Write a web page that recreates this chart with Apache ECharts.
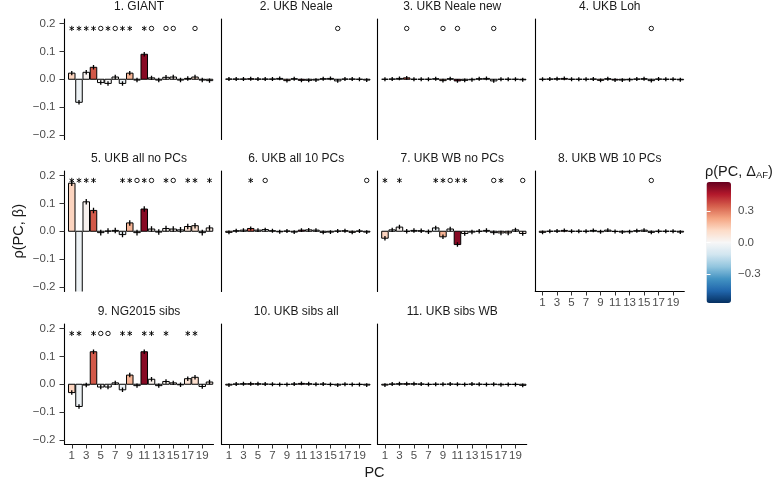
<!DOCTYPE html>
<html><head><meta charset="utf-8">
<script src="https://cdn.jsdelivr.net/npm/echarts@6/dist/echarts.min.js"></script>
<style>html,body{margin:0;padding:0;background:#fff}#c{width:781px;height:484px}</style>
</head><body><div id="c"></div>
<script>
// ---------------- data ----------------
const pcs = [1,2,3,4,5,6,7,8,9,10,11,12,13,14,15,16,17,18,19,20];
const xTickLabels = [1,3,5,7,9,11,13,15,17,19];
const yTickValues = [-0.2,-0.1,0,0.1,0.2];
const legendTicks = [-0.3,0,0.3];
// rho(PC, Delta AF) used for bar fill
const rhoPCdeltaAF = [0.13,-0.03,0.02,0.36,0.0,0.0,0.02,-0.04,0.2,0.0,0.53,0.03,0.0,0.02,0.03,0.0,0.08,0.1,0.0,0.04];
const panelNames = ['1. GIANT','2. UKB Neale','3. UKB Neale new','4. UKB Loh','5. UKB all no PCs','6. UKB all 10 PCs','7. UKB WB no PCs','8. UKB WB 10 PCs','9. NG2015 sibs','10. UKB sibs all','11. UKB sibs WB'];

const giant       = [0.022,-0.083,0.025,0.043,-0.012,-0.015,0.008,-0.015,0.022,-0.003,0.09,0.005,-0.003,0.007,0.008,-0.003,0.003,0.008,-0.003,-0.005];
const ukbNeale    = [0.001,0.001,0.001,0.002,0.001,0.001,0.001,0.003,-0.005,0.002,-0.004,-0.004,-0.003,0.002,0.003,-0.006,0.001,0.001,0.0,-0.003];
const ukbNealeNew = [0.0,0.001,0.003,0.005,0.0,0.0,0.0,0.002,-0.005,0.002,-0.006,-0.004,-0.002,0.002,0.003,-0.006,0.0,0.0,0.0,-0.002];
const ukbLoh      = [0.0,0.001,0.002,0.003,0.0,0.0,0.0,0.001,-0.004,0.002,-0.003,-0.003,-0.002,0.001,0.002,-0.005,0.001,0.0,0.0,-0.002];
const ukbAllNoPCs = [0.173,-0.3,0.106,0.075,-0.005,0.001,0.003,-0.012,0.03,-0.005,0.08,0.008,-0.003,0.01,0.008,0.005,0.017,0.02,-0.005,0.012];
const ukbAll10PCs = [-0.004,0.002,0.004,0.01,0.004,0.006,0.002,-0.002,0.001,-0.003,0.004,0.005,0.004,-0.004,-0.003,0.001,0.002,-0.004,0.001,-0.003];
const ukbWBnoPCs  = [-0.025,0.005,0.015,0.0,0.003,0.002,-0.002,0.012,-0.02,0.008,-0.048,-0.008,-0.003,0.0,0.003,-0.005,-0.006,-0.006,0.005,-0.008];
const ukbWB10PCs  = [-0.004,0.0,0.001,0.003,0.0,0.0,0.0,0.003,-0.002,0.004,-0.001,-0.003,-0.002,0.002,0.004,-0.004,0.0,0.0,0.0,-0.003];
const ng2015Sibs  = [-0.03,-0.08,-0.003,0.117,-0.01,-0.01,0.005,-0.02,0.033,-0.005,0.117,0.018,-0.005,0.01,0.005,-0.002,0.02,0.025,-0.008,0.008];
const ukbSibsAll  = [-0.003,0.001,0.002,0.002,0.002,0.001,0.0,-0.001,-0.001,0.001,0.003,0.002,0.0,0.001,-0.001,-0.003,0.0,-0.001,-0.001,-0.003];
const ukbSibsWB   = [-0.003,0.001,0.002,0.002,0.002,0.001,-0.001,0.0,0.0,0.001,0.0,-0.001,0.001,0.0,-0.001,0.0,-0.002,-0.001,-0.001,-0.004];
const panelValues = [giant,ukbNeale,ukbNealeNew,ukbLoh,ukbAllNoPCs,ukbAll10PCs,ukbWBnoPCs,ukbWB10PCs,ng2015Sibs,ukbSibsAll,ukbSibsWB];
// standard error half-widths per panel
const panelSE = [0.008,0.007,0.007,0.007,0.01,0.007,0.008,0.007,0.008,0.007,0.007];
// significance markers (PC numbers)
const starPCs = [
  [1,2,3,4,6,8,9,11], [], [], [],
  [1,2,3,4,8,9,11,14,17,18,20], [4], [1,3,8,9,11,12,17], [],
  [1,2,4,8,9,11,12,14,17,18], [], []
];
const circlePCs = [
  [5,7,12,14,15,18], [16], [4,9,11,16], [16],
  [10,12,15], [6,20], [10,16,20], [16],
  [5,6], [], []
];

// ---------------- layout / style ----------------
const FONT = 'Liberation Sans, Arial, Helvetica, sans-serif';
const colLeft = [64.5, 221.7, 377.7, 535.3];
const rowTop = [19, 171, 324];
const PW = 149, PH = 120.5;
const YMIN = -0.217, YMAX = 0.217, XMIN = 0, XMAX = 20.55;
const MARK_Y = 0.183;
const rdbu = ['#053061','#2166ac','#4393c3','#92c5de','#d1e5f0','#f7f7f7','#fddbc7','#f4a582','#d6604d','#b2182b','#67001f'];
const bottomPanels = [7,8,9,10];
const fmt = v => (v < 0 ? '\u2212' : '') + Math.abs(v).toFixed(1);

const option = {animation:false, backgroundColor:'#fff', textStyle:{fontFamily:FONT},
  grid:[], xAxis:[], yAxis:[], series:[], graphic:[]};
const barSeriesIdx = [];

panelValues.forEach((vals, i) => {
  const row = Math.floor(i/4), col = i % 4;
  const isBottom = bottomPanels.includes(i);
  option.grid.push({left: colLeft[col], top: rowTop[row], width: PW, height: PH});
  option.xAxis.push({type:'value', gridIndex:i, min:XMIN, max:XMAX, splitLine:{show:false},
    axisLine:{show:isBottom, onZero:false, lineStyle:{color:'#000', width:1.1}},
    axisTick:{show:isBottom, customValues:xTickLabels, length:4, lineStyle:{color:'#333', width:1}},
    axisLabel:{show:isBottom, customValues:xTickLabels, fontSize:11.5, color:'#4d4d4d', margin:5, fontFamily:FONT}});
  option.yAxis.push({type:'value', gridIndex:i, min:YMIN, max:YMAX, splitLine:{show:false},
    axisLine:{show:true, onZero:false, lineStyle:{color:'#000', width:1.1}},
    axisTick:{show:col===0, customValues:yTickValues, length:5, lineStyle:{color:'#333', width:1}},
    axisLabel:{show:col===0, customValues:yTickValues, formatter:fmt, fontSize:11.5, color:'#4d4d4d', margin:9, fontFamily:FONT},
    name: i===4 ? 'ρ(PC, β)' : '', nameLocation:'middle', nameGap:38, nameRotate:90,
    nameTextStyle:{fontSize:14.5, color:'#1a1a1a', fontFamily:FONT}});

  barSeriesIdx.push(option.series.length);
  option.series.push({type:'custom', xAxisIndex:i, yAxisIndex:i, clip:true,
    data: pcs.map((p,k) => [p, vals[k], rhoPCdeltaAF[k]]),
    encode:{x:0, y:1},
    renderItem:(params, api) => {
      const x = api.value(0), y = api.value(1);
      const a = api.coord([x-0.45, 0]), b = api.coord([x+0.45, y]);
      return {type:'rect', shape:{x:a[0], y:Math.min(a[1],b[1]), width:b[0]-a[0], height:Math.abs(b[1]-a[1])},
        style:{fill:api.visual('color'), stroke:'#000', lineWidth:1}};
    }});
  option.series.push({type:'custom', xAxisIndex:i, yAxisIndex:i, clip:true,
    data: pcs.map((p,k) => [p, vals[k], panelSE[i]]),
    encode:{x:0, y:1},
    renderItem:(params, api) => {
      const x = api.value(0), y = api.value(1), s = api.value(2);
      const a = api.coord([x, y-s]), b = api.coord([x, y+s]);
      return {type:'line', shape:{x1:a[0], y1:a[1], x2:b[0], y2:b[1]}, style:{stroke:'#000', lineWidth:1.3}};
    }});
  option.series.push({type:'custom', xAxisIndex:i, yAxisIndex:i,
    data: starPCs[i].map(p => [p, MARK_Y]), encode:{x:0, y:1},
    renderItem:(params, api) => {
      const c = api.coord([api.value(0), api.value(1)]), r = 2.6, d = r*0.866;
      const st = {stroke:'#000', lineWidth:0.9};
      return {type:'group', children:[
        {type:'line', shape:{x1:c[0], y1:c[1]-r, x2:c[0], y2:c[1]+r}, style:st},
        {type:'line', shape:{x1:c[0]-d, y1:c[1]-r/2, x2:c[0]+d, y2:c[1]+r/2}, style:st},
        {type:'line', shape:{x1:c[0]-d, y1:c[1]+r/2, x2:c[0]+d, y2:c[1]-r/2}, style:st}
      ]};
    }});
  option.series.push({type:'custom', xAxisIndex:i, yAxisIndex:i,
    data: circlePCs[i].map(p => [p, MARK_Y]), encode:{x:0, y:1},
    renderItem:(params, api) => {
      const c = api.coord([api.value(0), api.value(1)]);
      return {type:'circle', shape:{cx:c[0], cy:c[1], r:2.2}, style:{fill:'none', stroke:'#000', lineWidth:0.9}};
    }});

  option.graphic.push({type:'text', x: colLeft[col] + PW/2, y: rowTop[row] - 12,
    style:{text:panelNames[i], align:'center', verticalAlign:'middle', fontSize:12, fill:'#1a1a1a', fontFamily:FONT}});
});

// legend grid (tick labels for colour bar)
const LG = {left:706.5, top:182, width:24.5, height:121};
option.grid.push({left:LG.left, top:LG.top, width:LG.width, height:LG.height});
option.xAxis.push({type:'value', gridIndex:11, min:0, max:1, show:false});
option.yAxis.push({type:'value', gridIndex:11, min:-0.58, max:0.58, position:'right', z:10,
  splitLine:{show:false}, axisLine:{show:false},
  axisTick:{show:true, inside:true, length:4, customValues:legendTicks, lineStyle:{color:'#fff', width:1}},
  axisLabel:{customValues:legendTicks, formatter:fmt, fontSize:11.5, color:'#4d4d4d', margin:7, fontFamily:FONT}});
option.yAxis.push({type:'value', gridIndex:11, min:-0.58, max:0.58, position:'left', z:10,
  splitLine:{show:false}, axisLine:{show:false},
  axisTick:{show:true, inside:true, length:4, customValues:legendTicks, lineStyle:{color:'#fff', width:1}},
  axisLabel:{show:false}});

option.visualMap = [{type:'continuous', min:-0.58, max:0.58, dimension:2, seriesIndex:barSeriesIdx,
  inRange:{color:rdbu}, left:LG.left, top:LG.top, itemWidth:LG.width, itemHeight:LG.height,
  calculable:false, hoverLink:false, padding:0, text:null, z:4}];

option.graphic.push({type:'text', x:705, y:172, z:100,
  style:{text:'{a|ρ(PC, Δ}{b|AF}{a|)}', verticalAlign:'middle', align:'left',
    rich:{a:{fontSize:14.5, fill:'#1a1a1a', fontFamily:FONT}, b:{fontSize:9.5, fill:'#1a1a1a', fontFamily:FONT, padding:[7,0,0,0]}}}});
option.graphic.push({type:'text', x:374.5, y:473, z:100,
  style:{text:'PC', align:'center', verticalAlign:'middle', fontSize:14.5, fill:'#1a1a1a', fontFamily:FONT}});

const chart = echarts.init(document.getElementById('c'), null, {renderer:'canvas'});
chart.setOption(option);
</script></body></html>
